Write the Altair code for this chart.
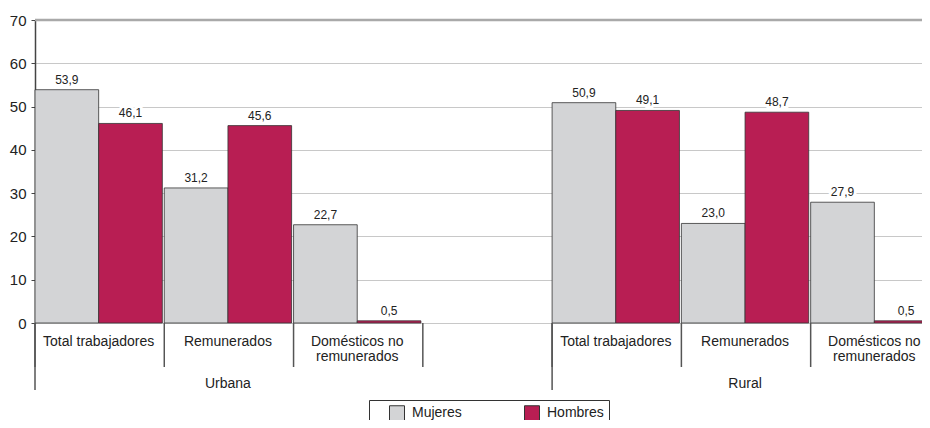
import altair as alt
import pandas as pd

# ---- data ----
areas = ["Urbana", "Rural"]
categories = ["Total trabajadores", "Remunerados", "Domésticos no remunerados"]
category_labels = ["Total trabajadores", "Remunerados", "Domésticos no|remunerados"]
sexes = ["Mujeres", "Hombres"]
mujeres = [53.9, 31.2, 22.7, 50.9, 23.0, 27.9]
hombres = [46.1, 45.6, 0.5, 49.1, 48.7, 0.5]
y_ticks = [0, 10, 20, 30, 40, 50, 60, 70]
colors = ["#d3d4d6", "#b81e53"]

FONT = "Liberation Sans"

# slot domain: Urbana has an empty spacer slot after its three categories
slots = []
for a in areas:
    for c in categories:
        slots.append(a + "/" + c)
    if a == "Urbana":
        slots.append(a + "/")

rows = []
i = 0
for a in areas:
    for c in categories:
        for s, vals in zip(sexes, [mujeres, hombres]):
            v = vals[i]
            rows.append({"slot": a + "/" + c, "sex": s, "value": v,
                         "txt": f"{v:.1f}".replace(".", ",")})
        i += 1
bars_df = pd.DataFrame(rows)

cat_df = pd.DataFrame([{"slot": a + "/" + c, "label": l}
                       for a in areas for c, l in zip(categories, category_labels)])
group_df = pd.DataFrame([{"slot": a + "/" + categories[1], "label": a} for a in areas])
short_sep = pd.DataFrame({"slot": slots})
long_sep = pd.DataFrame({"slot": [a + "/" + categories[0] for a in areas]})

x_scale = alt.Scale(domain=slots, range=[0, 903], paddingInner=0.015, paddingOuter=0)
xo_scale = alt.Scale(domain=sexes, paddingInner=0, paddingOuter=0)
y_scale = alt.Scale(domain=[0, 70], nice=False)

x_main = alt.X("slot:N", scale=x_scale,
               axis=alt.Axis(labels=False, ticks=False, title=None, domain=True,
                             domainColor="#555", domainWidth=1.5, grid=False))
x_plain = alt.X("slot:N", scale=x_scale, axis=None)
x_start = alt.X("slot:N", scale=x_scale, axis=None, bandPosition=0)

y_axis = alt.Axis(values=y_ticks, title=None, grid=True, gridColor="#c8c8c8",
                  gridWidth=1, domainColor="#444", domainWidth=1.5,
                  tickColor="#444", tickSize=4, labelPadding=5,
                  labelFontSize=15, labelColor="#222", labelFont=FONT)

bars = alt.Chart(bars_df).mark_bar(stroke="#333", strokeWidth=0.8).encode(
    x=x_main,
    xOffset=alt.XOffset("sex:N", scale=xo_scale, sort=sexes),
    y=alt.Y("value:Q", scale=y_scale, axis=y_axis),
    color=alt.Color("sex:N", scale=alt.Scale(domain=sexes, range=colors), sort=sexes,
                    legend=alt.Legend(title=None, orient="none", legendX=334, legendY=380,
                                      direction="horizontal", strokeColor="#333",
                                      padding=5, columnPadding=47, symbolType="square",
                                      symbolSize=225, symbolStrokeColor="#333",
                                      symbolStrokeWidth=1, symbolOffset=15,
                                      labelOffset=7, labelFontSize=14,
                                      labelFont=FONT, labelColor="#222")),
)

top_line = alt.Chart(pd.DataFrame({"v": [70]})).mark_rule(
    color="#a9a9a9", strokeWidth=2.5).encode(y=alt.Y("v:Q", scale=y_scale))

halo = alt.Chart(bars_df).mark_text(dy=-10, fontSize=12, font=FONT, stroke="white",
                                    strokeWidth=6, fill="white").encode(
    x=x_plain, xOffset=alt.XOffset("sex:N", scale=xo_scale, sort=sexes),
    y=alt.Y("value:Q", scale=y_scale), text="txt:N")
vals = alt.Chart(bars_df).mark_text(dy=-10, fontSize=12, font=FONT, color="#222").encode(
    x=x_plain, xOffset=alt.XOffset("sex:N", scale=xo_scale, sort=sexes),
    y=alt.Y("value:Q", scale=y_scale), text="txt:N")

seps_short = alt.Chart(short_sep).mark_rule(color="#555", strokeWidth=1.5).encode(
    x=x_start, y=alt.value(303), y2=alt.value(347))
seps_long = alt.Chart(long_sep).mark_rule(color="#555", strokeWidth=1.5).encode(
    x=x_start, y=alt.value(303), y2=alt.value(370))

cat_text = alt.Chart(cat_df).mark_text(baseline="top", fontSize=14, font=FONT,
                                       color="#222", lineBreak="|", lineHeight=15).encode(
    x=x_plain, y=alt.value(315), text="label:N")
group_text = alt.Chart(group_df).mark_text(baseline="middle", fontSize=14, font=FONT,
                                           color="#222").encode(
    x=x_plain, y=alt.value(364), text="label:N")

chart = alt.layer(bars, top_line, halo, vals, seps_short, seps_long, cat_text, group_text).properties(
    width=887, height=303,
    autosize=alt.AutoSizeParams(type="none"),
    padding={"left": 27, "top": 12, "right": 0, "bottom": 97},
).configure_view(stroke=None).configure(background="white")

chart.save("out.html", embed_options={"renderer": "svg", "actions": False})
